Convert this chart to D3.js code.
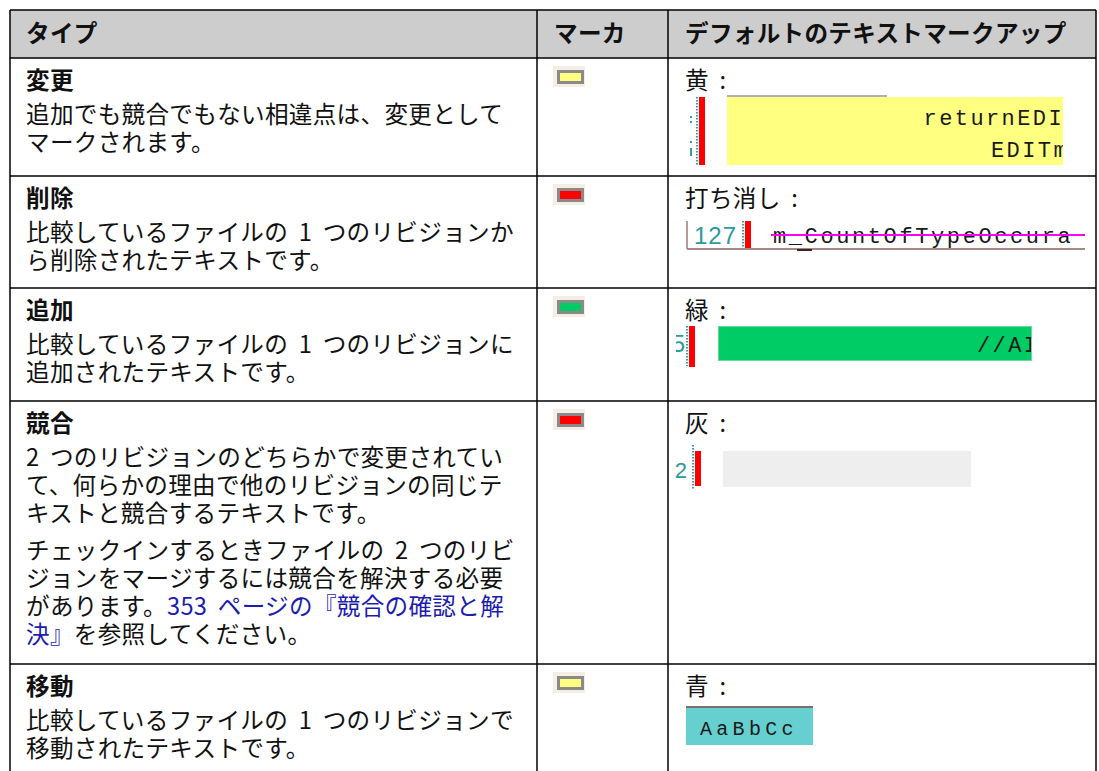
<!DOCTYPE html>
<html>
<head>
<meta charset="utf-8">
<script src="https://cdn.jsdelivr.net/npm/d3@7"></script>
<style>
  html, body { margin: 0; padding: 0; background: #ffffff; }
  svg { display: block; }
  .jp { font-family: "Noto Sans CJK JP", "Noto Sans", sans-serif; font-size: 23.6px; letter-spacing: 0.3px; word-spacing: 5px; fill: #111; }
  .hd { font-weight: 700; }
  .mono { font-family: "Liberation Mono", "DejaVu Sans Mono", monospace; font-size: 22px; letter-spacing: 2.4px; fill: #1a1a1a; font-weight: 500; }
</style>
</head>
<body>
<svg id="chart" width="1099" height="771"></svg>
<script>
// ---------------- data ----------------
const headers = ["タイプ", "マーカ", "デフォルトのテキストマークアップ"];
const types = ["変更", "削除", "追加", "競合", "移動"];
const descriptions = [
  [[[{t: "追加でも競合でもない相違点は、変更として"}], [{t: "マークされます。"}]]],
  [[[{t: "比較しているファイルの 1 つのリビジョンか"}], [{t: "ら削除されたテキストです。"}]]],
  [[[{t: "比較しているファイルの 1 つのリビジョンに"}], [{t: "追加されたテキストです。"}]]],
  [
    [[{t: "2 つのリビジョンのどちらかで変更されてい"}], [{t: "て、何らかの理由で他のリビジョンの同じテ"}], [{t: "キストと競合するテキストです。"}]],
    [[{t: "チェックインするときファイルの 2 つのリビ"}], [{t: "ジョンをマージするには競合を解決する必要"}],
     [{t: "があります。"}, {t: "353 ページの『競合の確認と解", link: true}],
     [{t: "決』", link: true}, {t: "を参照してください。"}]]
  ],
  [[[{t: "比較しているファイルの 1 つのリビジョンで"}], [{t: "移動されたテキストです。"}]]]
];
const markerColors = ["#ffff80", "#ff0000", "#00cc66", "#ff0000", "#ffff80"];
const markupLabels = ["黄 :", "打ち消し :", "緑 :", "灰 :", "青 :"];
const codeLines = [["returnEDI", "EDITm"], ["m_CountOfTypeOccura"], ["//AI"], [], ["AaBbCc"]];
const lineNumbers = ["", "127", "5", "2", ""];

// ---------------- layout ----------------
const W = 1099, H = 771;
const tableLeft = 10, tableRight = 1096, tableTop = 10, headerBottom = 58;
const colEdges = [tableLeft, 537, 668, tableRight];
const rowTops = [58, 176, 288, 401, 664];
const lineH = 28, paraGap = 9;

const svg = d3.select("#chart");
const defs = svg.append("defs");

// header background
svg.append("rect").attr("x", tableLeft).attr("y", tableTop)
  .attr("width", tableRight - tableLeft).attr("height", headerBottom - tableTop)
  .attr("fill", "#cdcdcd");

// header text
svg.append("g").selectAll("text").data(headers).join("text")
  .attr("class", "jp hd")
  .attr("x", (d, i) => colEdges[i] + (i === 0 ? 16 : 17))
  .attr("y", 42)
  .text(d => d);

// rows
const rows = svg.append("g").selectAll("g.row").data(types).join("g").attr("class", "row");

rows.each(function(type, i) {
  const g = d3.select(this);
  const top = rowTops[i];
  // title
  g.append("text").attr("class", "jp hd").attr("x", 26).attr("y", top + 31).text(type);
  // description paragraphs
  let y = top + 65;
  descriptions[i].forEach((para, pi) => {
    if (pi > 0) y += paraGap;
    para.forEach(line => {
      const t = g.append("text").attr("class", "jp").attr("x", 26).attr("y", y);
      t.selectAll("tspan").data(line).join("tspan")
        .attr("fill", d => d.link ? "#1c1cb0" : "#111")
        .text(d => d.t);
      y += lineH;
    });
  });
  // marker
  const mx = 553, my = top + 8;
  g.append("rect").attr("x", mx).attr("y", my).attr("width", 32).attr("height", 21).attr("fill", "#f6ede5");
  g.append("rect").attr("x", mx + 5.5).attr("y", my + 5.5).attr("width", 24).attr("height", 11)
    .attr("fill", markerColors[i]).attr("stroke", "#8a8a8a").attr("stroke-width", 3);
  // markup label
  g.append("text").attr("class", "jp").attr("x", 685).attr("y", top + 31).text(markupLabels[i]);
});

// helpers for code samples
function clip(id, x, y, w, h) {
  defs.append("clipPath").attr("id", id).append("rect").attr("x", x).attr("y", y).attr("width", w).attr("height", h);
  return "url(#" + id + ")";
}
function dotted(x, y1, y2) {
  svg.append("line").attr("x1", x).attr("x2", x).attr("y1", y1).attr("y2", y2)
    .attr("stroke", "#3a9e9e").attr("stroke-width", 2).attr("stroke-dasharray", "1.5,1.5");
}
function redBar(x, y1, y2) {
  svg.append("rect").attr("x", x).attr("y", y1).attr("width", 6).attr("height", y2 - y1).attr("fill", "#ff0000");
}

// ---- row 1 : yellow change ----
(function() {
  const top = rowTops[0];
  const gg = svg.append("g");
  [[top + 58, top + 60], [top + 63, top + 65], [top + 83, top + 85], [top + 90, top + 98]].forEach(d => {
    gg.append("rect").attr("x", 690).attr("y", d[0]).attr("width", 2).attr("height", d[1] - d[0]).attr("fill", "#3a9e9e");
  });
  dotted(697, top + 39, top + 107);
  redBar(699, top + 39, top + 107);
  svg.append("rect").attr("x", 727).attr("y", top + 37).attr("width", 160).attr("height", 2).attr("fill", "#b0b0b0");
  svg.append("rect").attr("x", 727).attr("y", top + 39).attr("width", 336).attr("height", 68).attr("fill", markerColors[0]);
  const cp = clip("c1", 727, top + 39, 336, 68);
  svg.append("g").attr("clip-path", cp).selectAll("text").data(codeLines[0]).join("text")
    .attr("class", "mono").attr("text-anchor", "end")
    .attr("x", (d, k) => k === 0 ? 1064 : 1069)
    .attr("y", (d, k) => top + 67 + k * 32)
    .text(d => d);
})();

// ---- row 2 : strike-through ----
(function() {
  const top = rowTops[1];
  svg.append("rect").attr("x", 686).attr("y", top + 45).attr("width", 2).attr("height", 28).attr("fill", "#b89a9a");
  svg.append("text").attr("x", 694).attr("y", top + 68)
    .style("font-family", "Liberation Sans, Arial, sans-serif").style("font-size", "24px").style("letter-spacing", "1px")
    .attr("fill", "#2a9a9a").text(lineNumbers[1]);
  dotted(743, top + 45, top + 73);
  redBar(745, top + 45, top + 74);
  const cp = clip("c2", 760, top + 40, 325, 40);
  const g = svg.append("g").attr("clip-path", cp);
  g.selectAll("text").data(codeLines[1]).join("text")
    .attr("class", "mono").attr("x", 773).attr("y", top + 67).style("letter-spacing", "2.6px").text(d => d);
  g.append("rect").attr("x", 771).attr("y", top + 58).attr("width", 320).attr("height", 2).attr("fill", "#ff00ff");
  svg.append("rect").attr("x", 687).attr("y", top + 72).attr("width", 398).attr("height", 2).attr("fill", "#a88888");
  svg.append("rect").attr("x", 797).attr("y", top + 73).attr("width", 15).attr("height", 2).attr("fill", "#442222");
})();

// ---- row 3 : green addition ----
(function() {
  const top = rowTops[2];
  const cpn = clip("c5", 676, top, 20, 110);
  svg.append("g").attr("clip-path", cpn).append("text")
    .attr("x", 685).attr("y", top + 64).attr("text-anchor", "end")
    .style("font-family", "Liberation Sans, Arial, sans-serif").style("font-size", "24px")
    .attr("fill", "#2a9a9a").text(lineNumbers[2]);
  dotted(687, top + 38, top + 78);
  redBar(689, top + 38, top + 79);
  svg.append("rect").attr("x", 718.5).attr("y", top + 38.5).attr("width", 313).attr("height", 34)
    .attr("fill", markerColors[2]).attr("stroke", "#6ad8a0").attr("stroke-width", 1);
  const cp = clip("c4", 719, top + 39, 312, 33);
  svg.append("g").attr("clip-path", cp).selectAll("text").data(codeLines[2]).join("text")
    .attr("class", "mono").attr("x", 977).attr("y", top + 64).text(d => d);
})();

// ---- row 4 : grey conflict ----
(function() {
  const top = rowTops[3];
  svg.append("text").attr("x", 687).attr("y", top + 77).attr("text-anchor", "end")
    .style("font-family", "Liberation Sans, Arial, sans-serif").style("font-size", "22px")
    .attr("fill", "#2a9a9a").text(lineNumbers[3]);
  dotted(693, top + 44, top + 89);
  redBar(695, top + 50, top + 85);
  svg.append("rect").attr("x", 723).attr("y", top + 50).attr("width", 248).attr("height", 36).attr("fill", "#eeeeee");
})();

// ---- row 5 : blue move ----
(function() {
  const top = rowTops[4];
  svg.append("rect").attr("x", 686).attr("y", top + 42).attr("width", 127).attr("height", 39).attr("fill", "#66d0d0");
  svg.append("rect").attr("x", 686).attr("y", top + 42).attr("width", 127).attr("height", 2).attr("fill", "#787070");
  svg.selectAll("text.mv").data(codeLines[4]).join("text").attr("class", "mono mv")
    .attr("x", 700).attr("y", top + 71).style("font-size", "20px").style("letter-spacing", "4.3px").text(d => d);
})();

// ---------------- grid lines ----------------
const grid = svg.append("g").attr("stroke", "#000").attr("stroke-width", 1.5).attr("fill", "none");
grid.append("line").attr("x1", tableLeft).attr("x2", tableRight).attr("y1", tableTop).attr("y2", tableTop);
grid.selectAll("line.h").data(rowTops).join("line").attr("class", "h")
  .attr("x1", tableLeft).attr("x2", tableRight).attr("y1", d => d).attr("y2", d => d);
grid.selectAll("line.v").data(colEdges).join("line").attr("class", "v")
  .attr("x1", d => d).attr("x2", d => d).attr("y1", tableTop).attr("y2", H + 10);
</script>
</body>
</html>
